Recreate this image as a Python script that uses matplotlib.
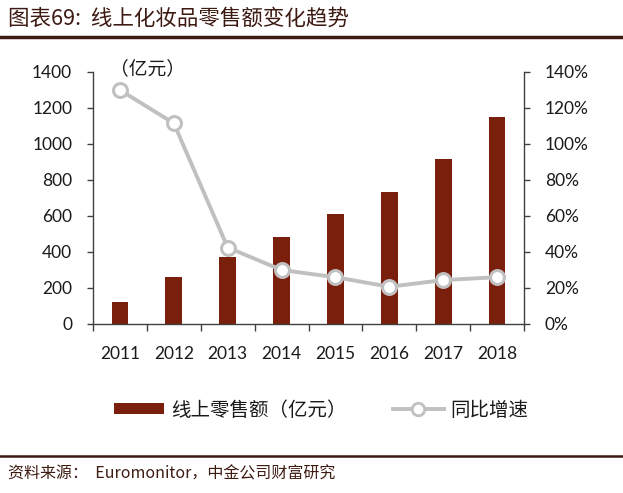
import matplotlib
matplotlib.use("Agg")
import matplotlib.pyplot as plt
import numpy as np
from matplotlib.lines import Line2D
from matplotlib.patches import Patch

plt.rcParams['font.family'] = ['Lato', 'Noto Sans CJK SC', 'DejaVu Sans']

years = ["2011", "2012", "2013", "2014", "2015", "2016", "2017", "2018"]
sales = [125, 260, 372, 483, 609, 735, 915, 1150]
growth = [130, 111.5, 42.5, 30, 26, 20.7, 24.4, 26]
left_ticks = [0, 200, 400, 600, 800, 1000, 1200, 1400]
right_ticks = [0, 20, 40, 60, 80, 100, 120, 140]

bar_color = "#7a1f0c"
line_color = "#c0c0c0"
spine_color = "#404040"
text_color = "#1a1a1a"
brown = "#3d1a12"

fig = plt.figure(figsize=(6.23, 4.93), dpi=100)
ax = fig.add_axes([93/623, 1-324/493, (524-93)/623, (324-72)/493])
x = np.arange(len(years))
ax.bar(x, sales, width=0.31, color=bar_color, zorder=2)
ax.set_xlim(-0.5, len(years)-0.5)
ax.set_ylim(0, 1400)
ax.set_yticks(left_ticks)
ax.set_yticklabels([str(v) for v in left_ticks], fontsize=12.5, color=text_color)
ax.set_xticks(x)
ax.set_xticklabels(years, fontsize=12.5, color=text_color)
ax.tick_params(axis='x', which='major', length=0, pad=16)
ax.set_xticks(np.arange(len(years)+1)-0.5, minor=True)
ax.tick_params(axis='x', which='minor', length=5, width=1, color=spine_color, direction='out')
ax.tick_params(axis='y', length=4, width=1, color=spine_color, direction='out', pad=11)
for s in ['top', 'right']:
    ax.spines[s].set_visible(False)
for s in ['left', 'bottom']:
    ax.spines[s].set_color(spine_color)
    ax.spines[s].set_linewidth(1)

ax2 = ax.twinx()
ax2.plot(x, growth, color=line_color, lw=2.8, marker='o', markersize=10,
         markerfacecolor='white', markeredgecolor=line_color, markeredgewidth=2.2, zorder=3)
ax2.set_ylim(0, 140)
ax2.set_yticks(right_ticks)
ax2.set_yticklabels([f"{v}%" for v in right_ticks], fontsize=12.5, color=text_color)
ax2.tick_params(axis='y', length=4, width=1, color=spine_color, direction='out', pad=11)
for s in ['top', 'left', 'bottom']:
    ax2.spines[s].set_visible(False)
ax2.spines['right'].set_color(spine_color)
ax2.spines['right'].set_linewidth(1)

fig.text(110/623, 1-69/493, "（亿元）", fontsize=13.5, color=text_color, va='center', ha='left',
         family=['Noto Sans CJK SC'])

handles = [Patch(facecolor=bar_color, edgecolor='none'),
           Line2D([0], [0], color=line_color, lw=2.8, marker='o', markersize=9,
                  markerfacecolor='white', markeredgecolor=line_color, markeredgewidth=2)]
leg = fig.legend(handles, ["线上零售额（亿元）", "同比增速"], loc='center',
                 bbox_to_anchor=(321/623, 1-410/493), ncol=2, frameon=False,
                 fontsize=14, handlelength=2.6, handleheight=0.55, columnspacing=2.4,
                 handletextpad=0.35)
for t in leg.get_texts():
    t.set_color(text_color)
    t.set_family(['Noto Sans CJK SC'])

fig.text(8/623, 1-19/493, "图表69:  线上化妆品零售额变化趋势", fontsize=15.5, color=brown,
         va='center', ha='left', style='italic', family=['Noto Sans CJK SC'])
fig.add_artist(Line2D([0, 1], [1-37/493, 1-37/493], color=brown, lw=2.5, transform=fig.transFigure))
fig.add_artist(Line2D([0, 1], [1-456/493, 1-456/493], color=brown, lw=1.8, transform=fig.transFigure))
fig.text(8/623, 1-474/493, "资料来源：  Euromonitor，中金公司财富研究", fontsize=11.5, color=brown,
         va='center', ha='left', style='italic', family=['Noto Sans CJK SC'])

fig.savefig("out.png", dpi=100)
